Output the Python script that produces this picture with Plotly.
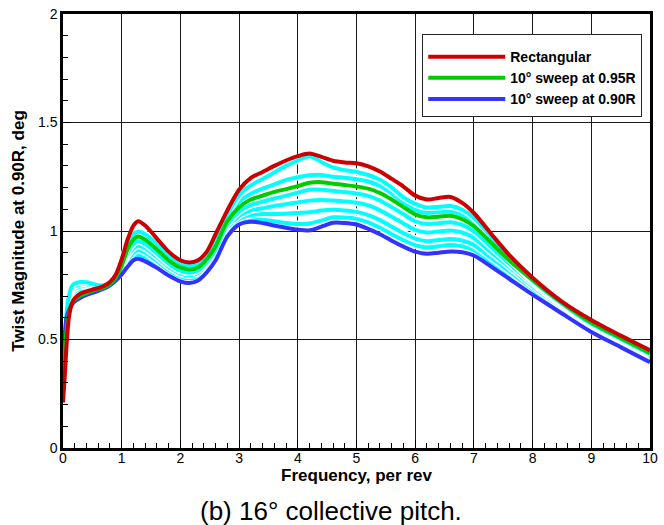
import plotly.graph_objects as go

# ---- data ----
freq = [0, 0.03, 0.06, 0.1, 0.15, 0.2, 0.3, 0.4, 0.5, 0.6, 0.7, 0.8, 0.9,
        1.0, 1.1, 1.2, 1.28, 1.4, 1.6, 1.8, 2.0, 2.15, 2.3, 2.45, 2.6, 2.8,
        3.0, 3.2, 3.4, 3.6, 3.8, 4.0, 4.2, 4.4, 4.6, 4.8, 5.0, 5.2, 5.4, 5.6, 5.8,
        6.0, 6.2, 6.4, 6.6, 6.8, 7.0, 7.3, 7.6, 8.0, 8.5, 9.0, 9.5, 10.0]

rectangular = [0.21, 0.33, 0.47, 0.60, 0.665, 0.69, 0.712, 0.722, 0.73, 0.737, 0.747, 0.765, 0.80,
               0.87, 0.96, 1.025, 1.045, 1.025, 0.965, 0.905, 0.865, 0.855, 0.865, 0.905, 0.985, 1.095,
               1.19, 1.245, 1.272, 1.30, 1.325, 1.345, 1.357, 1.342, 1.324, 1.316, 1.312, 1.298, 1.274, 1.24, 1.205,
               1.163, 1.145, 1.152, 1.157, 1.13, 1.083, 0.985, 0.89, 0.785, 0.675, 0.59, 0.518, 0.45]

sweep_095 = [0.35, 0.45, 0.54, 0.62, 0.665, 0.685, 0.703, 0.714, 0.724, 0.732, 0.74, 0.755, 0.785,
             0.84, 0.915, 0.96, 0.975, 0.96, 0.915, 0.865, 0.832, 0.823, 0.832, 0.87, 0.93, 1.045,
             1.11, 1.145, 1.163, 1.18, 1.193, 1.207, 1.222, 1.225, 1.218, 1.212, 1.205, 1.195, 1.175, 1.145, 1.11,
             1.077, 1.063, 1.066, 1.07, 1.055, 1.022, 0.945, 0.865, 0.775, 0.67, 0.578, 0.507, 0.438]

sweep_090 = [0.40, 0.52, 0.60, 0.635, 0.66, 0.675, 0.692, 0.705, 0.715, 0.724, 0.735, 0.75, 0.772,
             0.80, 0.835, 0.865, 0.872, 0.86, 0.83, 0.795, 0.768, 0.76, 0.772, 0.81, 0.865, 0.975,
             1.03, 1.043, 1.037, 1.025, 1.015, 1.006, 1.003, 1.02, 1.038, 1.037, 1.03, 1.01, 0.985, 0.955, 0.928,
             0.905, 0.895, 0.90, 0.905, 0.902, 0.887, 0.835, 0.78, 0.707, 0.62, 0.535, 0.465, 0.395]

# intermediate configurations (cyan curves)
inter_1 = [0.30, 0.48, 0.62, 0.70, 0.745, 0.758, 0.765, 0.764, 0.757, 0.75, 0.75, 0.76, 0.79,
           0.855, 0.94, 0.985, 0.998, 0.985, 0.94, 0.887, 0.85, 0.841, 0.85, 0.89, 0.96, 1.075,
           1.165, 1.21, 1.24, 1.27, 1.30, 1.325, 1.345, 1.318, 1.293, 1.28, 1.272, 1.258, 1.236, 1.2, 1.155,
           1.125, 1.108, 1.112, 1.115, 1.098, 1.06, 0.972, 0.878, 0.772, 0.665, 0.572, 0.503, 0.433]
inter_2 = [0.32, 0.48, 0.60, 0.685, 0.73, 0.745, 0.755, 0.755, 0.75, 0.746, 0.748, 0.758, 0.788,
           0.85, 0.93, 0.975, 0.99, 0.975, 0.93, 0.877, 0.842, 0.833, 0.842, 0.88, 0.945, 1.06,
           1.135, 1.172, 1.195, 1.215, 1.235, 1.248, 1.257, 1.258, 1.25, 1.245, 1.238, 1.228, 1.207, 1.172, 1.13,
           1.097, 1.083, 1.086, 1.089, 1.074, 1.04, 0.96, 0.872, 0.768, 0.662, 0.568, 0.50, 0.43]
inter_3 = [0.34, 0.49, 0.59, 0.67, 0.715, 0.733, 0.745, 0.747, 0.745, 0.743, 0.746, 0.757, 0.786,
           0.835, 0.90, 0.94, 0.953, 0.94, 0.897, 0.85, 0.817, 0.808, 0.818, 0.857, 0.915, 1.03,
           1.09, 1.12, 1.135, 1.15, 1.163, 1.177, 1.19, 1.19, 1.185, 1.18, 1.173, 1.162, 1.14, 1.11, 1.077,
           1.045, 1.032, 1.036, 1.04, 1.028, 0.998, 0.925, 0.85, 0.758, 0.655, 0.562, 0.493, 0.423]
inter_4 = [0.36, 0.50, 0.59, 0.66, 0.70, 0.72, 0.735, 0.74, 0.74, 0.74, 0.744, 0.755, 0.784,
           0.83, 0.885, 0.92, 0.932, 0.92, 0.88, 0.835, 0.803, 0.795, 0.806, 0.845, 0.903, 1.015,
           1.07, 1.095, 1.105, 1.115, 1.123, 1.132, 1.14, 1.143, 1.14, 1.136, 1.13, 1.118, 1.095, 1.066, 1.035,
           1.005, 0.993, 0.998, 1.002, 0.993, 0.968, 0.90, 0.835, 0.745, 0.647, 0.555, 0.486, 0.416]
inter_5 = [0.37, 0.51, 0.59, 0.655, 0.69, 0.71, 0.725, 0.733, 0.735, 0.737, 0.742, 0.753, 0.782,
           0.82, 0.865, 0.90, 0.912, 0.90, 0.862, 0.82, 0.79, 0.782, 0.794, 0.833, 0.89, 1.0,
           1.055, 1.073, 1.078, 1.078, 1.08, 1.083, 1.086, 1.094, 1.098, 1.095, 1.088, 1.073, 1.05, 1.02, 0.99,
           0.965, 0.953, 0.958, 0.963, 0.956, 0.935, 0.875, 0.815, 0.732, 0.638, 0.548, 0.479, 0.409]
inter_6 = [0.38, 0.51, 0.59, 0.645, 0.675, 0.69, 0.708, 0.718, 0.725, 0.732, 0.74, 0.752, 0.78,
           0.81, 0.85, 0.88, 0.89, 0.878, 0.845, 0.807, 0.778, 0.77, 0.782, 0.82, 0.877, 0.987,
           1.04, 1.055, 1.052, 1.045, 1.037, 1.032, 1.035, 1.048, 1.063, 1.062, 1.056, 1.04, 1.015, 0.985, 0.958,
           0.935, 0.924, 0.93, 0.935, 0.93, 0.912, 0.855, 0.80, 0.718, 0.628, 0.542, 0.472, 0.402]

x_ticks = [0, 1, 2, 3, 4, 5, 6, 7, 8, 9, 10]
y_ticks = [0, 0.5, 1, 1.5, 2]
y_ticklabels = ["0", "0.5", "1", "1.5", "2"]

FONT = "Arial, Liberation Sans, sans-serif"

fig = go.Figure()

# cyan intermediate curves with white outline
for ys in [inter_6, inter_5, inter_4, inter_3, inter_2, inter_1]:
    fig.add_trace(go.Scatter(x=freq, y=ys, mode="lines", showlegend=False, hoverinfo="skip",
                             line=dict(color="white", width=7, shape="spline", smoothing=0.8)))
    fig.add_trace(go.Scatter(x=freq, y=ys, mode="lines", showlegend=False,
                             line=dict(color="#00ffff", width=4, shape="spline", smoothing=0.8)))

fig.add_trace(go.Scatter(x=freq, y=sweep_090, mode="lines", name="10\u00b0 sweep at 0.90R",
                         legendrank=3, line=dict(color="#3333ff", width=4, shape="spline", smoothing=0.8)))
fig.add_trace(go.Scatter(x=freq, y=sweep_095, mode="lines", name="10\u00b0 sweep at 0.95R",
                         legendrank=2, line=dict(color="#00cc00", width=4, shape="spline", smoothing=0.8)))
fig.add_trace(go.Scatter(x=freq, y=rectangular, mode="lines", name="Rectangular",
                         legendrank=1, line=dict(color="#cc0000", width=4, shape="spline", smoothing=0.8)))

fig.update_layout(
    width=664, height=525,
    margin=dict(l=63, r=6, t=14, b=77),
    paper_bgcolor="white", plot_bgcolor="white",
    font=dict(family=FONT, color="black", size=14),
    legend=dict(x=0.612, y=0.955, xanchor="left", yanchor="top",
                bgcolor="white", bordercolor="#222", borderwidth=1,
                font=dict(family=FONT, size=14, color="black", weight="bold"),
                itemwidth=77, tracegroupgap=0,
                title=dict(text=" ", font=dict(size=5))),
    xaxis=dict(range=[0, 10], tickvals=x_ticks, ticktext=[str(v) for v in x_ticks],
               ticks="inside", ticklen=8, tickcolor="black", tickwidth=1,
               showline=True, linecolor="black", linewidth=2.5, mirror=True,
               showgrid=True, gridcolor="#1a1a1a", gridwidth=1, zeroline=False,
               tickfont=dict(size=14, family=FONT), ticklabelstandoff=-5,
               minor=dict(dtick=0.2, ticks="inside", ticklen=5, tickcolor="black", showgrid=False),
               title=dict(text="<b>Frequency, per rev</b>", font=dict(size=17, family=FONT), standoff=0)),
    yaxis=dict(range=[0, 2], tickvals=y_ticks, ticktext=y_ticklabels,
               ticks="inside", ticklen=8, tickcolor="black", tickwidth=1,
               showline=True, linecolor="black", linewidth=2.5, mirror=True,
               showgrid=True, gridcolor="#1a1a1a", gridwidth=1, zeroline=False,
               tickfont=dict(size=14, family=FONT),
               minor=dict(dtick=0.1, ticks="inside", ticklen=5, tickcolor="black", showgrid=False),
               title=dict(text="<b>Twist Magnitude at 0.90R, deg</b>", font=dict(size=17, family=FONT), standoff=10)),
    annotations=[dict(text="(b) 16\u00b0 collective pitch.", xref="paper", yref="paper",
                      x=0.456, y=-0.145, xanchor="center", yanchor="middle", showarrow=False,
                      font=dict(size=26, family=FONT, color="black"))],
)

fig.write_html("out.html")
